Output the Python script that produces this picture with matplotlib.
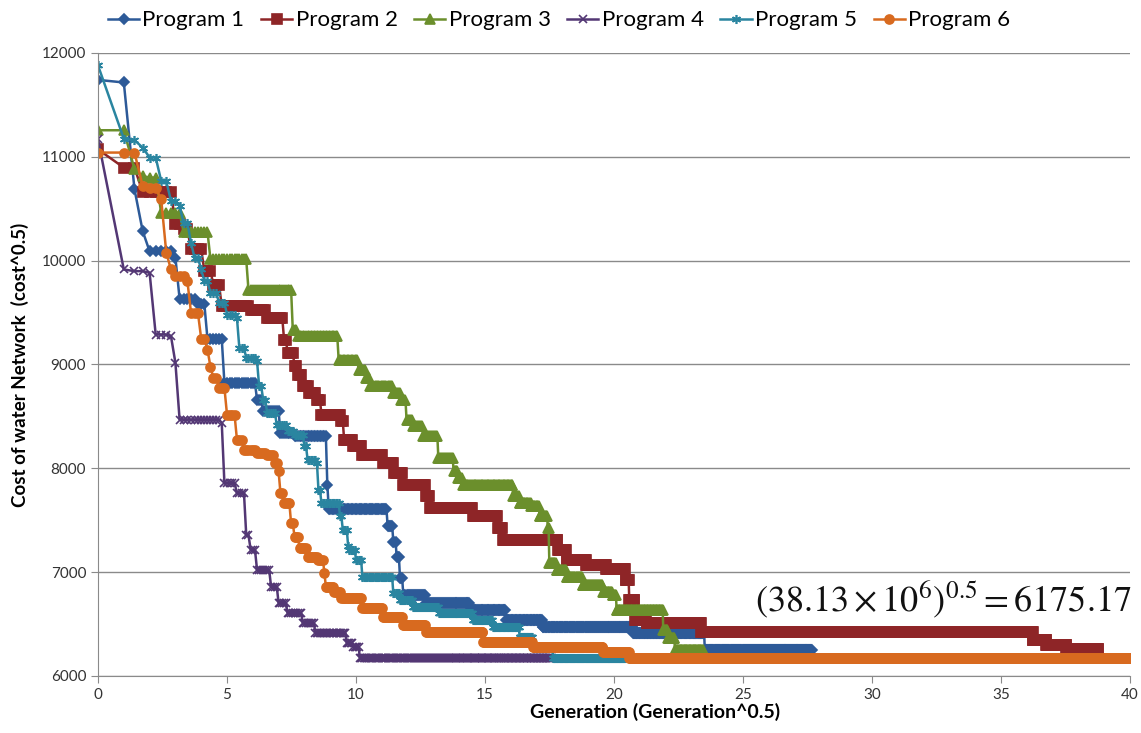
import numpy as np
import matplotlib
matplotlib.use("Agg")
import matplotlib.pyplot as plt

# DATA: generation where the best cost changes, and the new cost
p1_gen = [0, 1, 2, 3, 4, 9, 10, 15, 18, 24, 38, 41, 50, 58, 79, 80, 126, 131, 134, 137, 140, 162, 208, 250, 297, 430, 553]
p1_cost = [11741, 11716, 10687, 10284, 10090, 10028, 9633, 9578, 9247, 8823, 8661, 8548, 8340, 8308, 7842, 7607, 7446, 7295, 7150, 6942, 6781, 6701, 6636, 6540, 6476, 6412, 6253]
p1_end = 765

p2_gen = [0, 1, 3, 9, 11, 13, 17, 20, 23, 35, 43, 52, 54, 58, 60, 63, 67, 72, 75, 89, 91, 98, 105, 122, 132, 140, 162, 166, 211, 240, 246, 318, 330, 358, 388, 418, 424, 433, 452, 547, 1313, 1332, 1351, 1409]
p2_cost = [11072, 10896, 10660, 10349, 10301, 10108, 9899, 9770, 9561, 9529, 9449, 9240, 9112, 8990, 8903, 8790, 8726, 8661, 8517, 8453, 8276, 8211, 8131, 8051, 7955, 7842, 7729, 7617, 7536, 7424, 7312, 7215, 7119, 7070, 7029, 6926, 6733, 6540, 6508, 6427, 6347, 6347, 6299, 6257]
p2_end = 1502

p3_gen = [0, 2, 3, 4, 6, 11, 19, 34, 57, 60, 87, 102, 108, 111, 131, 138, 143, 149, 159, 174, 190, 195, 200, 259, 267, 282, 293, 304, 306, 316, 330, 353, 383, 398, 404, 480, 488, 500]
p3_cost = [11256, 10880, 10815, 10800, 10462, 10277, 10012, 9722, 9330, 9272, 9047, 8951, 8871, 8790, 8726, 8661, 8469, 8404, 8308, 8099, 7970, 7906, 7842, 7729, 7665, 7633, 7536, 7424, 7086, 7022, 6958, 6875, 6813, 6781, 6636, 6444, 6364, 6251]
p3_end = 550

p4_gen = [0, 1, 2, 4, 5, 8, 9, 10, 23, 24, 29, 33, 35, 38, 45, 49, 54, 63, 71, 93, 98, 103]
p4_cost = [11169, 9915, 9899, 9883, 9288, 9272, 9016, 8469, 8436, 7858, 7762, 7360, 7215, 7022, 6861, 6701, 6605, 6508, 6412, 6315, 6283, 6175]
p4_end = 309

p5_gen = [0, 1, 2, 3, 4, 6, 8, 10, 11, 13, 14, 16, 17, 19, 22, 25, 29, 30, 33, 38, 39, 41, 43, 48, 54, 58, 64, 66, 72, 73, 75, 88, 90, 94, 95, 100, 105, 131, 137, 149, 175, 211, 234, 267, 284, 311]
p5_cost = [11880, 11175, 11160, 11089, 10993, 10767, 10574, 10526, 10365, 10172, 10028, 9915, 9802, 9690, 9594, 9481, 9449, 9160, 9064, 9031, 8790, 8661, 8533, 8420, 8356, 8324, 8211, 8083, 8051, 7794, 7665, 7536, 7408, 7247, 7215, 7119, 6950, 6797, 6733, 6669, 6605, 6540, 6476, 6379, 6283, 6175]
p5_end = 417

p6_gen = [0, 3, 4, 6, 7, 8, 9, 12, 13, 16, 18, 19, 20, 22, 25, 29, 32, 38, 43, 47, 49, 50, 52, 56, 58, 61, 66, 73, 77, 78, 84, 89, 105, 122, 140, 162, 223, 284, 383, 424]
p6_cost = [11041, 10718, 10700, 10590, 10076, 9915, 9851, 9802, 9497, 9247, 9144, 8977, 8871, 8775, 8517, 8276, 8179, 8147, 8131, 8051, 7970, 7762, 7665, 7472, 7343, 7231, 7150, 7119, 6990, 6861, 6813, 6749, 6653, 6572, 6492, 6427, 6331, 6283, 6235, 6175]
p6_end = 1600

labels = ["Program 1", "Program 2", "Program 3", "Program 4", "Program 5", "Program 6"]
colors = ["#2d5a98", "#8e2527", "#6b8f2c", "#533774", "#2a85a0", "#d86a1f"]
markers = ["D", "s", "^", "x", (6, 2, 0), "o"]
msizes = [5, 6.5, 6.5, 6, 6.5, 6.5]


def hold_series(gens, costs, end):
    # the best cost is kept until the next improvement
    lengths = np.diff(gens + [end + 1])
    y = np.repeat(costs, lengths)
    x = np.sqrt(np.arange(end + 1))
    return x, y


series = [
    hold_series(p1_gen, p1_cost, p1_end),
    hold_series(p2_gen, p2_cost, p2_end),
    hold_series(p3_gen, p3_cost, p3_end),
    hold_series(p4_gen, p4_cost, p4_end),
    hold_series(p5_gen, p5_cost, p5_end),
    hold_series(p6_gen, p6_cost, p6_end),
]

plt.rcParams["mathtext.fontset"] = "stix"

fig = plt.figure(figsize=(11.41, 7.33), dpi=100)
ax = fig.add_axes([0.0859, 0.0778, 0.9045, 0.8499])

for (x, y), lab, c, m, ms in zip(series, labels, colors, markers, msizes):
    ax.plot(x, y, color=c, lw=1.8, marker=m, markersize=ms,
            markerfacecolor=c, markeredgecolor=c, markeredgewidth=1.2, label=lab)

ax.set_xlim(0, 40)
ax.set_ylim(6000, 12000)
ax.set_xticks(np.arange(0, 41, 5))
ax.set_yticks(np.arange(6000, 12001, 1000))
ax.yaxis.grid(True, color="#8a8a8a", lw=1)
ax.set_axisbelow(True)
for s in ["top", "right"]:
    ax.spines[s].set_visible(False)
for s in ["left", "bottom"]:
    ax.spines[s].set_color("#8a8a8a")
ax.tick_params(axis="both", direction="out", length=5, color="#8a8a8a",
               labelsize=11, labelcolor="#333333")
for t in ax.get_xticklabels() + ax.get_yticklabels():
    t.set_family("Lato")

ax.set_xlabel("Generation (Generation^0.5)", fontsize=14, fontweight="bold",
              family="Lato", x=0.54, labelpad=1)
ax.set_ylabel("Cost of water Network  (cost^0.5)", fontsize=13.5, fontweight="bold",
              family="Lato", labelpad=9)

ax.text(0.637, 0.103, r"$(38.13\times10^{6})^{0.5}=6175.17$", transform=ax.transAxes,
        fontsize=26, color="#111111", ha="left", va="baseline")

fig.legend(loc="upper center", bbox_to_anchor=(0.49, 1.013), ncol=6, frameon=False,
           prop={"family": "Lato", "size": 16}, handlelength=1.4, handletextpad=0.15,
           columnspacing=0.75)

fig.savefig("out.png", dpi=100)
